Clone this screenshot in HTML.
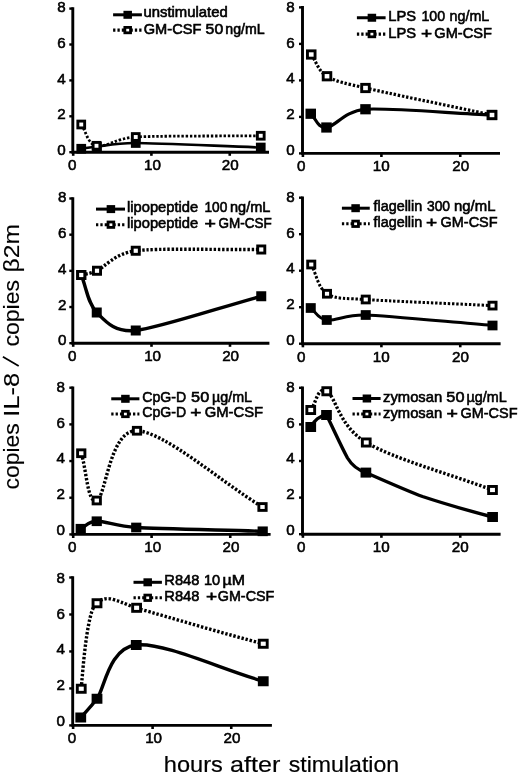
<!DOCTYPE html>
<html><head><meta charset="utf-8"><title>chart</title>
<style>html,body{margin:0;padding:0;background:#fff}svg{display:block;will-change:transform}</style>
</head><body>
<svg width="520" height="775" viewBox="0 0 520 775">
<rect width="520" height="775" fill="#fff"/>
<g font-family="'Liberation Sans', sans-serif" fill="#000" stroke="#000">
<path d="M72.80,7.30 V152.20 H269.00" fill="none" stroke-width="2.90" stroke-linejoin="miter"/>
<path d="M69.30,152.20 H72.80" fill="none" stroke-width="2.4"/>
<text x="65.60" y="155.00" font-size="15.2" text-anchor="end" stroke-width="0.55">0</text>
<path d="M69.30,116.30 H72.80" fill="none" stroke-width="2.4"/>
<text x="65.60" y="119.30" font-size="15.2" text-anchor="end" stroke-width="0.55">2</text>
<path d="M69.30,80.40 H72.80" fill="none" stroke-width="2.4"/>
<text x="65.60" y="83.60" font-size="15.2" text-anchor="end" stroke-width="0.55">4</text>
<path d="M69.30,44.50 H72.80" fill="none" stroke-width="2.4"/>
<text x="65.60" y="47.90" font-size="15.2" text-anchor="end" stroke-width="0.55">6</text>
<path d="M69.30,8.60 H72.80" fill="none" stroke-width="2.4"/>
<text x="65.60" y="12.20" font-size="15.2" text-anchor="end" stroke-width="0.55">8</text>
<path d="M73.20,152.20 V155.80" fill="none" stroke-width="2.6"/>
<text x="72.20" y="170.20" font-size="15.2" text-anchor="middle" stroke-width="0.55">0</text>
<path d="M151.40,152.20 V155.80" fill="none" stroke-width="2.6"/>
<text x="152.50" y="170.20" font-size="15.2" text-anchor="middle" stroke-width="0.55">10</text>
<path d="M229.75,152.20 V155.80" fill="none" stroke-width="2.6"/>
<text x="230.25" y="170.20" font-size="15.2" text-anchor="middle" stroke-width="0.55">20</text>
<path d="M81.25,124.50 C86.33,131.60 87.42,143.72 96.50,145.80 C105.58,147.88 115.68,138.23 135.75,137.00 C155.82,135.77 219.08,136.17 260.75,135.75" fill="none" stroke-width="2.80" stroke-dasharray="2.4 1.8"/>
<path d="M81.25,148.75 C86.50,148.00 89.09,147.33 97.00,146.50 C104.91,145.67 116.30,142.88 135.75,143.00 C155.20,143.12 219.08,146.00 260.75,147.50" fill="none" stroke-width="2.70" stroke-linecap="round" stroke-linejoin="round"/>
<rect x="76.40" y="143.90" width="9.70" height="9.70" stroke="none"/>
<rect x="92.15" y="141.65" width="9.70" height="9.70" stroke="none"/>
<rect x="130.90" y="138.15" width="9.70" height="9.70" stroke="none"/>
<rect x="255.90" y="142.65" width="9.70" height="9.70" stroke="none"/>
<rect x="77.85" y="121.10" width="6.80" height="6.80" fill="#fff" stroke-width="2.9"/>
<rect x="93.10" y="142.40" width="6.80" height="6.80" fill="#fff" stroke-width="2.9"/>
<rect x="132.35" y="133.60" width="6.80" height="6.80" fill="#fff" stroke-width="2.9"/>
<rect x="257.35" y="132.35" width="6.80" height="6.80" fill="#fff" stroke-width="2.9"/>
<path d="M113.10,14.80 H141.90" fill="none" stroke-width="3"/>
<rect x="123.45" y="10.80" width="8.5" height="8" stroke="none"/>
<text x="143.53" y="17.25" font-size="14.1" textLength="84.18" lengthAdjust="spacingAndGlyphs" stroke-width="0.6">unstimulated</text>
<path d="M113.10,30.10 H141.90" fill="none" stroke-width="3.1" stroke-dasharray="2.3 2.05"/>
<rect x="124.85" y="27.40" width="5.7" height="5.4" fill="#fff" stroke-width="2.8"/>
<text x="143.77" y="34.00" font-size="14.1" textLength="57.55" lengthAdjust="spacingAndGlyphs" stroke-width="0.6">GM-CSF</text>
<text x="205.62" y="34.00" font-size="14.1" textLength="17.55" lengthAdjust="spacingAndGlyphs" stroke-width="0.6">50</text>
<text x="225.33" y="34.00" font-size="14.1" textLength="39.34" lengthAdjust="spacingAndGlyphs" stroke-width="0.6">ng/mL</text>
<path d="M302.50,6.10 V153.40 H500.00" fill="none" stroke-width="2.90" stroke-linejoin="miter"/>
<path d="M299.00,153.40 H302.50" fill="none" stroke-width="2.4"/>
<text x="294.80" y="154.85" font-size="15.2" text-anchor="end" stroke-width="0.55">0</text>
<path d="M299.00,116.90 H302.50" fill="none" stroke-width="2.4"/>
<text x="294.80" y="119.15" font-size="15.2" text-anchor="end" stroke-width="0.55">2</text>
<path d="M299.00,80.40 H302.50" fill="none" stroke-width="2.4"/>
<text x="294.80" y="83.45" font-size="15.2" text-anchor="end" stroke-width="0.55">4</text>
<path d="M299.00,43.90 H302.50" fill="none" stroke-width="2.4"/>
<text x="294.80" y="47.75" font-size="15.2" text-anchor="end" stroke-width="0.55">6</text>
<path d="M299.00,7.40 H302.50" fill="none" stroke-width="2.4"/>
<text x="294.80" y="12.05" font-size="15.2" text-anchor="end" stroke-width="0.55">8</text>
<path d="M302.90,153.40 V157.00" fill="none" stroke-width="2.6"/>
<text x="301.25" y="171.40" font-size="15.2" text-anchor="middle" stroke-width="0.55">0</text>
<path d="M381.40,153.40 V157.00" fill="none" stroke-width="2.6"/>
<text x="381.25" y="171.40" font-size="15.2" text-anchor="middle" stroke-width="0.55">10</text>
<path d="M460.25,153.40 V157.00" fill="none" stroke-width="2.6"/>
<text x="460.75" y="171.40" font-size="15.2" text-anchor="middle" stroke-width="0.55">20</text>
<path d="M311.25,54.50 C316.50,61.75 317.96,70.67 327.00,76.25 C336.04,81.83 345.91,83.40 365.50,88.00 C385.09,92.60 449.83,106.00 492.00,115.00" fill="none" stroke-width="3.20" stroke-dasharray="2.4 1.8"/>
<path d="M310.75,113.75 C316.00,118.33 317.38,128.25 326.50,127.50 C335.62,126.75 344.03,110.87 365.50,109.25 C386.97,107.63 449.83,113.08 492.00,115.00" fill="none" stroke-width="3.20" stroke-linecap="round" stroke-linejoin="round"/>
<rect x="305.50" y="108.65" width="10.50" height="10.20" stroke="none"/>
<rect x="321.25" y="122.40" width="10.50" height="10.20" stroke="none"/>
<rect x="360.25" y="104.15" width="10.50" height="10.20" stroke="none"/>
<rect x="486.75" y="109.90" width="10.50" height="10.20" stroke="none"/>
<rect x="307.45" y="50.85" width="7.60" height="7.30" fill="#fff" stroke-width="2.9"/>
<rect x="323.20" y="72.60" width="7.60" height="7.30" fill="#fff" stroke-width="2.9"/>
<rect x="361.70" y="84.35" width="7.60" height="7.30" fill="#fff" stroke-width="2.9"/>
<rect x="488.20" y="111.35" width="7.60" height="7.30" fill="#fff" stroke-width="2.9"/>
<path d="M356.90,17.75 H385.60" fill="none" stroke-width="3"/>
<rect x="367.65" y="13.75" width="8.5" height="8" stroke="none"/>
<text x="388.32" y="21.25" font-size="15.2" textLength="27.84" lengthAdjust="spacingAndGlyphs" stroke-width="0.6">LPS</text>
<text x="421.44" y="21.25" font-size="15.2" textLength="23.68" lengthAdjust="spacingAndGlyphs" stroke-width="0.6">100</text>
<text x="449.57" y="21.25" font-size="15.2" textLength="39.75" lengthAdjust="spacingAndGlyphs" stroke-width="0.6">ng/mL</text>
<path d="M356.90,34.10 H385.60" fill="none" stroke-width="3.1" stroke-dasharray="2.3 2.05"/>
<rect x="369.05" y="31.40" width="5.7" height="5.4" fill="#fff" stroke-width="2.8"/>
<text x="388.32" y="37.75" font-size="15.2" textLength="27.84" lengthAdjust="spacingAndGlyphs" stroke-width="0.6">LPS</text>
<text x="421.05" y="37.75" font-size="15.2" textLength="11.14" lengthAdjust="spacingAndGlyphs" stroke-width="0.6">+</text>
<text x="434.27" y="37.75" font-size="15.2" textLength="57.70" lengthAdjust="spacingAndGlyphs" stroke-width="0.6">GM-CSF</text>
<path d="M72.80,197.20 V343.20 H269.40" fill="none" stroke-width="2.90" stroke-linejoin="miter"/>
<path d="M69.30,343.20 H72.80" fill="none" stroke-width="2.4"/>
<text x="66.40" y="345.25" font-size="15.2" text-anchor="end" stroke-width="0.55">0</text>
<path d="M69.30,307.02 H72.80" fill="none" stroke-width="2.4"/>
<text x="66.40" y="309.55" font-size="15.2" text-anchor="end" stroke-width="0.55">2</text>
<path d="M69.30,270.85 H72.80" fill="none" stroke-width="2.4"/>
<text x="66.40" y="273.85" font-size="15.2" text-anchor="end" stroke-width="0.55">4</text>
<path d="M69.30,234.68 H72.80" fill="none" stroke-width="2.4"/>
<text x="66.40" y="238.15" font-size="15.2" text-anchor="end" stroke-width="0.55">6</text>
<path d="M69.30,198.50 H72.80" fill="none" stroke-width="2.4"/>
<text x="66.40" y="202.45" font-size="15.2" text-anchor="end" stroke-width="0.55">8</text>
<path d="M73.20,343.20 V346.80" fill="none" stroke-width="2.6"/>
<text x="72.30" y="361.20" font-size="15.2" text-anchor="middle" stroke-width="0.55">0</text>
<path d="M151.50,343.20 V346.80" fill="none" stroke-width="2.6"/>
<text x="152.60" y="361.20" font-size="15.2" text-anchor="middle" stroke-width="0.55">10</text>
<path d="M230.00,343.20 V346.80" fill="none" stroke-width="2.6"/>
<text x="230.60" y="361.20" font-size="15.2" text-anchor="middle" stroke-width="0.55">20</text>
<path d="M81.25,275.00 C86.50,273.58 89.55,274.07 97.00,270.75 C104.45,267.43 114.13,253.55 135.75,250.75 C157.37,247.95 219.42,249.92 261.25,249.50" fill="none" stroke-width="3.40" stroke-dasharray="2.4 1.8"/>
<path d="M81.25,275.00 C86.42,287.50 87.67,303.25 96.75,312.50 C105.83,321.75 114.38,332.61 135.75,330.50 C157.12,328.39 219.42,307.67 261.25,296.25" fill="none" stroke-width="3.40" stroke-linecap="round" stroke-linejoin="round"/>
<rect x="76.25" y="270.00" width="10.00" height="10.00" stroke="none"/>
<rect x="91.75" y="307.50" width="10.00" height="10.00" stroke="none"/>
<rect x="130.75" y="325.50" width="10.00" height="10.00" stroke="none"/>
<rect x="256.25" y="291.25" width="10.00" height="10.00" stroke="none"/>
<rect x="77.70" y="271.45" width="7.10" height="7.10" fill="#fff" stroke-width="2.9"/>
<rect x="93.45" y="267.20" width="7.10" height="7.10" fill="#fff" stroke-width="2.9"/>
<rect x="132.20" y="247.20" width="7.10" height="7.10" fill="#fff" stroke-width="2.9"/>
<rect x="257.70" y="245.95" width="7.10" height="7.10" fill="#fff" stroke-width="2.9"/>
<path d="M96.00,209.10 H125.00" fill="none" stroke-width="3"/>
<rect x="106.65" y="205.10" width="8.5" height="8" stroke="none"/>
<text x="127.04" y="211.60" font-size="14.5" textLength="71.16" lengthAdjust="spacingAndGlyphs" stroke-width="0.6">lipopeptide</text>
<text x="204.47" y="211.60" font-size="14.5" textLength="22.87" lengthAdjust="spacingAndGlyphs" stroke-width="0.6">100</text>
<text x="230.06" y="211.60" font-size="14.5" textLength="40.37" lengthAdjust="spacingAndGlyphs" stroke-width="0.6">ng/mL</text>
<path d="M96.00,224.70 H125.00" fill="none" stroke-width="3.1" stroke-dasharray="2.3 2.05"/>
<rect x="108.05" y="222.00" width="5.7" height="5.4" fill="#fff" stroke-width="2.8"/>
<text x="127.04" y="227.75" font-size="14.5" textLength="71.16" lengthAdjust="spacingAndGlyphs" stroke-width="0.6">lipopeptide</text>
<text x="204.52" y="227.75" font-size="14.5" textLength="11.44" lengthAdjust="spacingAndGlyphs" stroke-width="0.6">+</text>
<text x="218.58" y="227.75" font-size="14.5" textLength="53.20" lengthAdjust="spacingAndGlyphs" stroke-width="0.6">GM-CSF</text>
<path d="M302.50,196.40 V343.70 H500.60" fill="none" stroke-width="2.90" stroke-linejoin="miter"/>
<path d="M299.00,343.70 H302.50" fill="none" stroke-width="2.4"/>
<text x="294.80" y="344.85" font-size="15.2" text-anchor="end" stroke-width="0.55">0</text>
<path d="M299.00,307.20 H302.50" fill="none" stroke-width="2.4"/>
<text x="294.80" y="309.15" font-size="15.2" text-anchor="end" stroke-width="0.55">2</text>
<path d="M299.00,270.70 H302.50" fill="none" stroke-width="2.4"/>
<text x="294.80" y="273.45" font-size="15.2" text-anchor="end" stroke-width="0.55">4</text>
<path d="M299.00,234.20 H302.50" fill="none" stroke-width="2.4"/>
<text x="294.80" y="237.75" font-size="15.2" text-anchor="end" stroke-width="0.55">6</text>
<path d="M299.00,197.70 H302.50" fill="none" stroke-width="2.4"/>
<text x="294.80" y="202.05" font-size="15.2" text-anchor="end" stroke-width="0.55">8</text>
<path d="M302.90,343.70 V347.30" fill="none" stroke-width="2.6"/>
<text x="301.20" y="361.70" font-size="15.2" text-anchor="middle" stroke-width="0.55">0</text>
<path d="M381.40,343.70 V347.30" fill="none" stroke-width="2.6"/>
<text x="381.30" y="361.70" font-size="15.2" text-anchor="middle" stroke-width="0.55">10</text>
<path d="M460.25,343.70 V347.30" fill="none" stroke-width="2.6"/>
<text x="460.40" y="361.70" font-size="15.2" text-anchor="middle" stroke-width="0.55">20</text>
<path d="M311.25,264.50 C316.50,274.25 317.92,287.92 327.00,293.75 C336.08,299.58 346.21,298.10 365.75,299.50 C385.29,300.90 450.25,303.57 492.50,305.60" fill="none" stroke-width="3.00" stroke-dasharray="2.4 1.8"/>
<path d="M310.75,308.00 C316.08,312.00 317.58,318.83 326.75,320.00 C335.92,321.17 346.10,314.35 365.75,315.00 C385.40,315.65 450.25,322.00 492.50,325.50" fill="none" stroke-width="3.00" stroke-linecap="round" stroke-linejoin="round"/>
<rect x="305.75" y="303.15" width="10.00" height="9.70" stroke="none"/>
<rect x="321.75" y="315.15" width="10.00" height="9.70" stroke="none"/>
<rect x="360.75" y="310.15" width="10.00" height="9.70" stroke="none"/>
<rect x="487.50" y="320.65" width="10.00" height="9.70" stroke="none"/>
<rect x="307.70" y="261.10" width="7.10" height="6.80" fill="#fff" stroke-width="2.9"/>
<rect x="323.45" y="290.35" width="7.10" height="6.80" fill="#fff" stroke-width="2.9"/>
<rect x="362.20" y="296.10" width="7.10" height="6.80" fill="#fff" stroke-width="2.9"/>
<rect x="488.95" y="302.20" width="7.10" height="6.80" fill="#fff" stroke-width="2.9"/>
<path d="M341.90,208.20 H369.75" fill="none" stroke-width="3"/>
<rect x="351.35" y="204.20" width="8.5" height="8" stroke="none"/>
<text x="373.53" y="211.25" font-size="14.9" textLength="48.67" lengthAdjust="spacingAndGlyphs" stroke-width="0.6">flagellin</text>
<text x="426.94" y="211.25" font-size="14.9" textLength="23.16" lengthAdjust="spacingAndGlyphs" stroke-width="0.6">300</text>
<text x="454.03" y="211.25" font-size="14.9" textLength="41.41" lengthAdjust="spacingAndGlyphs" stroke-width="0.6">ng/mL</text>
<path d="M341.90,223.80 H369.75" fill="none" stroke-width="3.1" stroke-dasharray="2.3 2.05"/>
<rect x="352.75" y="221.10" width="5.7" height="5.4" fill="#fff" stroke-width="2.8"/>
<text x="373.53" y="226.90" font-size="14.9" textLength="48.67" lengthAdjust="spacingAndGlyphs" stroke-width="0.6">flagellin</text>
<text x="426.05" y="226.90" font-size="14.9" textLength="11.14" lengthAdjust="spacingAndGlyphs" stroke-width="0.6">+</text>
<text x="440.53" y="226.90" font-size="14.9" textLength="57.04" lengthAdjust="spacingAndGlyphs" stroke-width="0.6">GM-CSF</text>
<path d="M72.80,386.40 V534.40 H270.60" fill="none" stroke-width="2.90" stroke-linejoin="miter"/>
<path d="M69.30,534.40 H72.80" fill="none" stroke-width="2.4"/>
<text x="65.00" y="534.65" font-size="15.2" text-anchor="end" stroke-width="0.55">0</text>
<path d="M69.30,497.72 H72.80" fill="none" stroke-width="2.4"/>
<text x="65.00" y="498.95" font-size="15.2" text-anchor="end" stroke-width="0.55">2</text>
<path d="M69.30,461.05 H72.80" fill="none" stroke-width="2.4"/>
<text x="65.00" y="463.25" font-size="15.2" text-anchor="end" stroke-width="0.55">4</text>
<path d="M69.30,424.38 H72.80" fill="none" stroke-width="2.4"/>
<text x="65.00" y="427.55" font-size="15.2" text-anchor="end" stroke-width="0.55">6</text>
<path d="M69.30,387.70 H72.80" fill="none" stroke-width="2.4"/>
<text x="65.00" y="391.85" font-size="15.2" text-anchor="end" stroke-width="0.55">8</text>
<path d="M73.20,534.40 V538.00" fill="none" stroke-width="2.6"/>
<text x="72.30" y="552.40" font-size="15.2" text-anchor="middle" stroke-width="0.55">0</text>
<path d="M151.60,534.40 V538.00" fill="none" stroke-width="2.6"/>
<text x="152.80" y="552.40" font-size="15.2" text-anchor="middle" stroke-width="0.55">10</text>
<path d="M230.25,534.40 V538.00" fill="none" stroke-width="2.6"/>
<text x="230.90" y="552.40" font-size="15.2" text-anchor="middle" stroke-width="0.55">20</text>
<path d="M81.25,453.25 C86.42,469.00 87.46,504.25 96.75,500.50 C106.04,496.75 109.38,429.67 137.00,430.75 C164.62,431.83 220.67,481.58 262.50,507.00" fill="none" stroke-width="3.40" stroke-dasharray="2.4 1.8"/>
<path d="M80.75,528.75 C86.08,526.25 87.92,521.45 96.75,521.25 C105.58,521.05 116.29,526.29 136.25,527.50 C156.21,528.71 220.55,530.03 262.70,531.30" fill="none" stroke-width="3.40" stroke-linecap="round" stroke-linejoin="round"/>
<rect x="75.65" y="523.90" width="10.20" height="9.70" stroke="none"/>
<rect x="91.65" y="516.40" width="10.20" height="9.70" stroke="none"/>
<rect x="131.15" y="522.65" width="10.20" height="9.70" stroke="none"/>
<rect x="257.60" y="526.45" width="10.20" height="9.70" stroke="none"/>
<rect x="77.60" y="449.85" width="7.30" height="6.80" fill="#fff" stroke-width="2.9"/>
<rect x="93.10" y="497.10" width="7.30" height="6.80" fill="#fff" stroke-width="2.9"/>
<rect x="133.35" y="427.35" width="7.30" height="6.80" fill="#fff" stroke-width="2.9"/>
<rect x="258.85" y="503.60" width="7.30" height="6.80" fill="#fff" stroke-width="2.9"/>
<path d="M111.25,398.80 H139.40" fill="none" stroke-width="3"/>
<rect x="121.15" y="394.80" width="8.5" height="8" stroke="none"/>
<text x="142.30" y="401.60" font-size="15.0" textLength="43.86" lengthAdjust="spacingAndGlyphs" stroke-width="0.6">CpG-D</text>
<text x="191.10" y="401.60" font-size="15.0" textLength="18.09" lengthAdjust="spacingAndGlyphs" stroke-width="0.6">50</text>
<text x="212.00" y="401.60" font-size="15.0" textLength="40.02" lengthAdjust="spacingAndGlyphs" stroke-width="0.6">µg/mL</text>
<path d="M111.25,414.00 H139.40" fill="none" stroke-width="3.1" stroke-dasharray="2.3 2.05"/>
<rect x="122.55" y="411.30" width="5.7" height="5.4" fill="#fff" stroke-width="2.8"/>
<text x="142.30" y="417.25" font-size="15.0" textLength="43.86" lengthAdjust="spacingAndGlyphs" stroke-width="0.6">CpG-D</text>
<text x="190.30" y="417.25" font-size="15.0" textLength="11.14" lengthAdjust="spacingAndGlyphs" stroke-width="0.6">+</text>
<text x="204.76" y="417.25" font-size="15.0" textLength="58.42" lengthAdjust="spacingAndGlyphs" stroke-width="0.6">GM-CSF</text>
<path d="M302.50,386.50 V534.20 H500.60" fill="none" stroke-width="2.90" stroke-linejoin="miter"/>
<path d="M299.00,534.20 H302.50" fill="none" stroke-width="2.4"/>
<text x="294.80" y="534.85" font-size="15.2" text-anchor="end" stroke-width="0.55">0</text>
<path d="M299.00,497.60 H302.50" fill="none" stroke-width="2.4"/>
<text x="294.80" y="499.15" font-size="15.2" text-anchor="end" stroke-width="0.55">2</text>
<path d="M299.00,461.00 H302.50" fill="none" stroke-width="2.4"/>
<text x="294.80" y="463.45" font-size="15.2" text-anchor="end" stroke-width="0.55">4</text>
<path d="M299.00,424.40 H302.50" fill="none" stroke-width="2.4"/>
<text x="294.80" y="427.75" font-size="15.2" text-anchor="end" stroke-width="0.55">6</text>
<path d="M299.00,387.80 H302.50" fill="none" stroke-width="2.4"/>
<text x="294.80" y="392.05" font-size="15.2" text-anchor="end" stroke-width="0.55">8</text>
<path d="M302.90,534.20 V537.80" fill="none" stroke-width="2.6"/>
<text x="301.20" y="552.20" font-size="15.2" text-anchor="middle" stroke-width="0.55">0</text>
<path d="M381.40,534.20 V537.80" fill="none" stroke-width="2.6"/>
<text x="381.20" y="552.20" font-size="15.2" text-anchor="middle" stroke-width="0.55">10</text>
<path d="M460.25,534.20 V537.80" fill="none" stroke-width="2.6"/>
<text x="460.20" y="552.20" font-size="15.2" text-anchor="middle" stroke-width="0.55">20</text>
<path d="M310.75,410.00 C316.08,403.75 317.50,385.83 326.75,391.25 C336.00,396.67 338.62,426.04 366.25,442.50 C393.88,458.96 450.42,474.17 492.50,490.00" fill="none" stroke-width="3.40" stroke-dasharray="2.4 1.8"/>
<path d="M310.75,427 C314,421 320,415.5 326.5,415 C333,428 341,446 347.5,458 C352,465.5 358,470 365.9,472.6 C385,481 410,492 422.5,496.5 C445,504 470,511 492.5,517" fill="none" stroke-width="3.40" stroke-linecap="round" stroke-linejoin="round"/>
<rect x="305.40" y="422.00" width="10.70" height="10.00" stroke="none"/>
<rect x="321.15" y="410.00" width="10.70" height="10.00" stroke="none"/>
<rect x="360.55" y="467.60" width="10.70" height="10.00" stroke="none"/>
<rect x="487.25" y="512.00" width="10.70" height="10.00" stroke="none"/>
<rect x="306.85" y="406.45" width="7.80" height="7.10" fill="#fff" stroke-width="2.9"/>
<rect x="322.85" y="387.70" width="7.80" height="7.10" fill="#fff" stroke-width="2.9"/>
<rect x="362.35" y="438.95" width="7.80" height="7.10" fill="#fff" stroke-width="2.9"/>
<rect x="488.60" y="486.45" width="7.80" height="7.10" fill="#fff" stroke-width="2.9"/>
<path d="M352.50,398.50 H380.60" fill="none" stroke-width="3"/>
<rect x="362.65" y="394.50" width="8.5" height="8" stroke="none"/>
<text x="383.01" y="401.90" font-size="15.0" textLength="59.23" lengthAdjust="spacingAndGlyphs" stroke-width="0.6">zymosan</text>
<text x="446.35" y="401.90" font-size="15.0" textLength="18.09" lengthAdjust="spacingAndGlyphs" stroke-width="0.6">50</text>
<text x="466.50" y="401.90" font-size="15.0" textLength="40.18" lengthAdjust="spacingAndGlyphs" stroke-width="0.6">µg/mL</text>
<path d="M352.50,414.00 H380.60" fill="none" stroke-width="3.1" stroke-dasharray="2.3 2.05"/>
<rect x="364.05" y="411.30" width="5.7" height="5.4" fill="#fff" stroke-width="2.8"/>
<text x="383.01" y="417.75" font-size="15.0" textLength="59.23" lengthAdjust="spacingAndGlyphs" stroke-width="0.6">zymosan</text>
<text x="446.52" y="417.75" font-size="15.0" textLength="11.44" lengthAdjust="spacingAndGlyphs" stroke-width="0.6">+</text>
<text x="460.53" y="417.75" font-size="15.0" textLength="57.04" lengthAdjust="spacingAndGlyphs" stroke-width="0.6">GM-CSF</text>
<path d="M72.70,576.20 V725.40 H271.90" fill="none" stroke-width="2.90" stroke-linejoin="miter"/>
<path d="M69.20,725.40 H72.70" fill="none" stroke-width="2.4"/>
<text x="65.00" y="725.80" font-size="15.2" text-anchor="end" stroke-width="0.55">0</text>
<path d="M69.20,688.42 H72.70" fill="none" stroke-width="2.4"/>
<text x="65.00" y="690.10" font-size="15.2" text-anchor="end" stroke-width="0.55">2</text>
<path d="M69.20,651.45 H72.70" fill="none" stroke-width="2.4"/>
<text x="65.00" y="654.40" font-size="15.2" text-anchor="end" stroke-width="0.55">4</text>
<path d="M69.20,614.48 H72.70" fill="none" stroke-width="2.4"/>
<text x="65.00" y="618.70" font-size="15.2" text-anchor="end" stroke-width="0.55">6</text>
<path d="M69.20,577.50 H72.70" fill="none" stroke-width="2.4"/>
<text x="65.00" y="583.00" font-size="15.2" text-anchor="end" stroke-width="0.55">8</text>
<path d="M73.10,725.40 V729.00" fill="none" stroke-width="2.6"/>
<text x="72.00" y="743.40" font-size="15.2" text-anchor="middle" stroke-width="0.55">0</text>
<path d="M152.60,725.40 V729.00" fill="none" stroke-width="2.6"/>
<text x="153.60" y="743.40" font-size="15.2" text-anchor="middle" stroke-width="0.55">10</text>
<path d="M231.25,725.40 V729.00" fill="none" stroke-width="2.6"/>
<text x="231.90" y="743.40" font-size="15.2" text-anchor="middle" stroke-width="0.55">20</text>
<path d="M81.25,688.75 C83.5,660 86.5,628 92,611 C93.5,607 95,604.5 97,603.25 C100,599.5 106,597.8 111,599 C121,601.5 129,605.5 137,608.25 C170,617.5 225,634 263.25,643.75" fill="none" stroke-width="3.40" stroke-dasharray="2.4 1.8"/>
<path d="M80.75,717.50 C86.17,711.25 89.46,708.60 97.00,698.75 C104.54,688.90 108.54,647.92 136.25,645.00 C163.96,642.08 220.92,669.17 263.25,681.25" fill="none" stroke-width="3.40" stroke-linecap="round" stroke-linejoin="round"/>
<rect x="75.35" y="712.50" width="10.80" height="10.00" stroke="none"/>
<rect x="91.60" y="693.75" width="10.80" height="10.00" stroke="none"/>
<rect x="130.85" y="640.00" width="10.80" height="10.00" stroke="none"/>
<rect x="257.85" y="676.25" width="10.80" height="10.00" stroke="none"/>
<rect x="77.30" y="685.20" width="7.90" height="7.10" fill="#fff" stroke-width="2.9"/>
<rect x="93.05" y="599.70" width="7.90" height="7.10" fill="#fff" stroke-width="2.9"/>
<rect x="132.65" y="604.25" width="7.90" height="7.10" fill="#fff" stroke-width="2.9"/>
<rect x="259.30" y="640.20" width="7.90" height="7.10" fill="#fff" stroke-width="2.9"/>
<path d="M133.50,582.30 H161.90" fill="none" stroke-width="3"/>
<rect x="143.45" y="578.30" width="8.5" height="8" stroke="none"/>
<text x="164.33" y="585.00" font-size="14.6" textLength="35.02" lengthAdjust="spacingAndGlyphs" stroke-width="0.6">R848</text>
<text x="203.91" y="585.00" font-size="14.6" textLength="16.21" lengthAdjust="spacingAndGlyphs" stroke-width="0.6">10</text>
<text x="222.63" y="585.00" font-size="14.6" textLength="22.46" lengthAdjust="spacingAndGlyphs" stroke-width="0.6">µM</text>
<path d="M133.50,597.80 H161.90" fill="none" stroke-width="3.1" stroke-dasharray="2.3 2.05"/>
<rect x="144.85" y="595.10" width="5.7" height="5.4" fill="#fff" stroke-width="2.8"/>
<text x="164.33" y="601.25" font-size="14.6" textLength="35.02" lengthAdjust="spacingAndGlyphs" stroke-width="0.6">R848</text>
<text x="206.05" y="601.25" font-size="14.6" textLength="11.14" lengthAdjust="spacingAndGlyphs" stroke-width="0.6">+</text>
<text x="217.78" y="601.25" font-size="14.6" textLength="56.53" lengthAdjust="spacingAndGlyphs" stroke-width="0.6">GM-CSF</text>
<text x="163.85" y="772.00" font-size="22" textLength="59.01" lengthAdjust="spacingAndGlyphs" stroke-width="0.2">hours</text>
<text x="230.12" y="772.00" font-size="22" textLength="50.28" lengthAdjust="spacingAndGlyphs" stroke-width="0.2">after</text>
<text x="288.81" y="772.00" font-size="22" textLength="110.29" lengthAdjust="spacingAndGlyphs" stroke-width="0.2">stimulation</text>
<text transform="translate(19.20,488.40) rotate(-90)" x="-1.03" font-size="22.4" stroke-width="0.12" textLength="66.25" lengthAdjust="spacingAndGlyphs">copies</text>
<text transform="translate(19.20,414.40) rotate(-90)" x="-2.29" font-size="22.4" stroke-width="0.12" textLength="43.78" lengthAdjust="spacingAndGlyphs">IL-8</text>
<path d="M2.9,356.7 L18.7,366.1" fill="none" stroke-width="1.8"/>
<text transform="translate(19.20,345.50) rotate(-90)" x="-1.04" font-size="22.4" stroke-width="0.12" textLength="66.56" lengthAdjust="spacingAndGlyphs">copies</text>
<text transform="translate(19.20,270.70) rotate(-90)" x="-1.72" font-size="22.4" stroke-width="0.12" textLength="48.33" lengthAdjust="spacingAndGlyphs">β2m</text>
</g></svg>
</body></html>
